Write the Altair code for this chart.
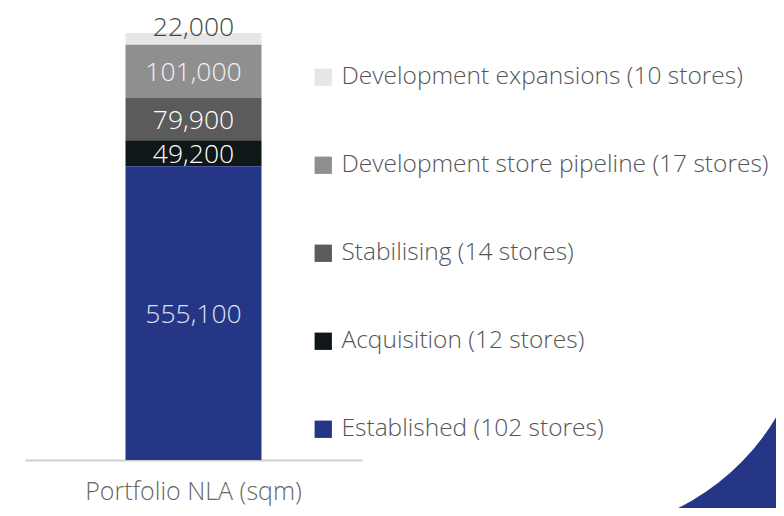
import altair as alt
import pandas as pd

categories = [
    "Development expansions (10 stores)",
    "Development store pipeline (17 stores)",
    "Stabilising (14 stores)",
    "Acquisition (12 stores)",
    "Established (102 stores)",
]
values = [22000, 101000, 79900, 49200, 555100]
value_labels = ["22,000", "101,000", "79,900", "49,200", "555,100"]
stack_rank = [5, 4, 3, 2, 1]
colors = ["#e6e6e6", "#8f8f8f", "#5b5b5b", "#0f1718", "#263686"]
label_colors = ["#444444", "#f2f2f2", "#ffffff", "#ffffff", "#dfe0f0"]
group_name = "Portfolio NLA (sqm)"

FONT = "Open Sans"

df = pd.DataFrame({
    "group": [group_name] * len(categories),
    "category": categories,
    "value": values,
    "label": value_labels,
    "rank": stack_rank,
    "lcolor": label_colors,
})

total = sum(values)

base = alt.Chart(df)

bars = base.mark_bar(size=136).encode(
    x=alt.X("group:N", title=None,
            axis=alt.Axis(labelAngle=0, ticks=False, domainColor="#cfcfcf", domainWidth=2,
                          labelFontSize=25, labelColor="#666666", labelFont=FONT,
                          labelFontWeight=300, labelPadding=19, labelLimit=400)),
    y=alt.Y("value:Q", stack="zero", scale=alt.Scale(domain=[0, total], nice=False), axis=None),
    color=alt.Color("category:N", scale=alt.Scale(domain=categories, range=colors),
                    legend=alt.Legend(title=None, orient="none", legendX=286, legendY=32,
                                      symbolType="square", symbolSize=300, symbolStrokeWidth=0,
                                      labelFontSize=24.5, labelFont=FONT, labelFontWeight=300,
                                      labelColor="#555555", labelOffset=6, rowPadding=63,
                                      labelLimit=600, padding=0)),
    order=alt.Order("rank:Q"),
)

stacked = base.transform_stack(
    stack="value", groupby=["group"], sort=[alt.SortField("rank")], as_=["y0", "y1"]
).transform_calculate(mid="(datum.y0 + datum.y1) / 2")

text_in = stacked.transform_filter("datum.rank < 5").mark_text(
    fontSize=26.5, font=FONT, fontWeight=300, baseline="middle", align="center", dy=1.5
).encode(
    x=alt.X("group:N"),
    y=alt.Y("mid:Q"),
    text="label:N",
    color=alt.Color("lcolor:N", scale=None),
)

text_top = stacked.transform_filter("datum.rank == 5").mark_text(
    fontSize=26.5, font=FONT, fontWeight=300, baseline="middle", align="center", dy=-11
).encode(
    x=alt.X("group:N"),
    y=alt.Y("mid:Q"),
    text="label:N",
    color=alt.Color("lcolor:N", scale=None),
)

deco = alt.Chart(alt.Data(values=[{"d": 1}])).mark_arc(
    color="#263686", theta=1.3, theta2=3.4, radius=238, radius2=380
).encode(x=alt.value(547), y=alt.value(262))

chart = alt.layer(deco, bars, text_in, text_top).properties(
    width=337, height=427,
    autosize=alt.AutoSizeParams(type="none"),
    padding={"left": 17, "top": 25, "right": 414, "bottom": 48},
    background="white",
).configure_view(stroke=None)

chart.save("out.html", embed_options={"renderer": "svg", "actions": False})
